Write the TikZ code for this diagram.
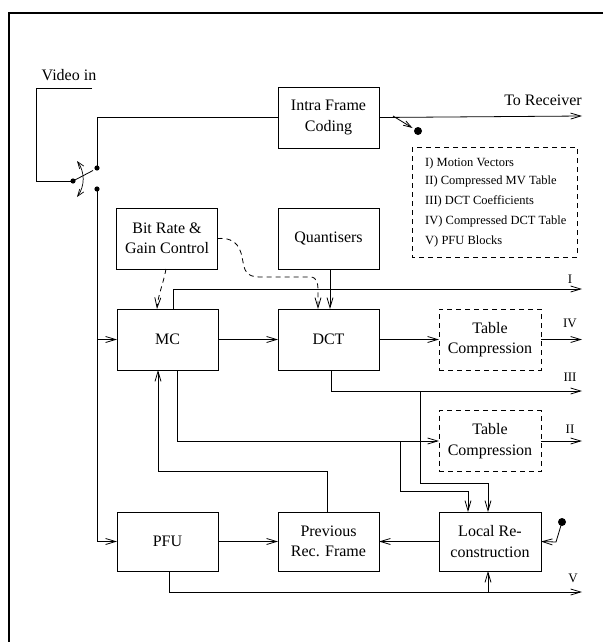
\documentclass[tikz,border=0pt]{standalone}
\usepackage{fontspec}
\setmainfont{Liberation Serif}
\usetikzlibrary{arrows.meta,calc}
\begin{document}
\begin{tikzpicture}[x=1pt,y=-1pt,
  every node/.style={font=\fontsize{16}{20.5}\selectfont},
  box/.style={draw,line width=0.8pt,inner sep=0pt,outer sep=0pt,minimum width=101pt,minimum height=61pt,align=center},
  dsh/.style={dash pattern=on 5pt off 4pt},
  dbox/.style={box,dsh},
  arr/.style={-{Straight Barb[length=10pt,width=6pt]}},
  wire/.style={line width=0.8pt},
  small/.style={font=\fontsize{13}{15}\selectfont},
  legtxt/.style={font=\fontsize{12.5}{14}\selectfont,anchor=west,inner sep=0pt}]
\useasboundingbox (0,0) rectangle (603,642);
\draw[line width=1.2pt] (603,13) -- (9,13) -- (9,642);

% boxes
\node[box] (intra) at (328.5,117.5) {Intra Frame\\Coding};
\node[box] (bitrate) at (167,238.5) {Bit Rate \&\\Gain Control};
\node[box] (quant) at (328.5,238.5) {Quantisers};
\node[box] (mc) at (167.5,339.5) {\raisebox{-5pt}{MC}};
\node[box] (dct) at (328.5,339.5) {\raisebox{-2.5pt}{DCT}};
\node[dbox,minimum width=102pt] (tc1) at (490,339.5) {Table\\Compression};
\node[dbox,minimum width=102pt] (tc2) at (490,441) {Table\\Compression};
\node[box,minimum width=102pt,minimum height=59pt] (lr) at (490,541.5) {Local Re-\\construction};
\node[box,minimum height=59pt] (prev) at (328.5,541.5) {Previous\\Rec. Frame};
\node[box,minimum height=59pt] (pfu) at (167.5,541.5) {\raisebox{-5pt}{PFU}};

% legend
\draw[wire,dsh] (412,147) rectangle (577,257);
\node[legtxt] (l1) at (425,163) {I) Motion Vectors};
\node[legtxt] (l2) at (425,181.5) {II) Compressed MV Table};
\node[legtxt] (l3) at (425,201.5) {III) DCT Coefficients};
\node[legtxt] (l4) at (425,221) {IV) Compressed DCT Table};
\node[legtxt] (l5) at (425,241.5) {V) PFU Blocks};

% switch
\node (vin) at (69,75) {Video in};
\coordinate (sw) at (73,181);
\coordinate (ct) at (97,168);
\coordinate (cb) at (97,189);
\fill (sw) circle (2.6);
\fill (ct) circle (2.6);
\fill (cb) circle (2.6);
\draw[wire] (92,88) -- (36,88) -- (36,181) -- (sw);
\draw[wire] (sw) -- (93,170.5);
\draw[line width=0.7pt,{Straight Barb[length=7pt,width=5pt]}-{Straight Barb[length=7pt,width=5pt]}] (77,161) .. controls (85,172) and (85,186) .. (77,197);

% top path
\draw[wire] (ct) |- (intra.west);
\draw[wire,arr] (intra.east) -- (582,116) coordinate (rcv);
\node[anchor=base east,inner sep=0pt] (torecv) at (582,105) {To Receiver};
\coordinate (d1) at (418,131);
\fill (d1) circle (4);
\draw[wire,-{Straight Barb[length=8pt,width=5pt]}] (393,116) -- (412.5,128);

% left feed
\draw[wire,arr] (cb) |- (pfu.west);
\draw[wire,arr] (cb |- mc.west) -- (mc.west);

% bit rate dashed
\draw[wire,dsh,arr] ([xshift=-1pt]bitrate.south) .. controls (163,285) and (158,295) .. ([xshift=-10.5pt]mc.north);
\draw[wire,dsh,arr] (bitrate.east) .. controls (238,237) and (241,250) .. (243,262) .. controls (245,275) and (250,277) .. (262,277) -- (310,277) .. controls (318,277) and (318,285) .. (318,293) -- ([xshift=-10.5pt]dct.north);

% quantisers
\draw[wire,arr] ([xshift=1.5pt]quant.south) -- ([xshift=1.5pt]dct.north);

% I
\draw[wire,arr] ([xshift=5.5pt]mc.north) |- (582,289);
\node[small] (lI) at (570,279) {I};

% MC -> DCT -> TC1 -> IV
\draw[wire,arr] (mc.east) -- (dct.west);
\draw[wire,arr] (dct.east) -- (tc1.west);
\draw[wire,arr] (tc1.east) -- (582,339.5);
\node[small] (lIV) at (570,323) {IV};

% III
\draw[wire,arr] ([xshift=2.5pt]dct.south) |- (582,391);
\node[small] (lIII) at (570,377) {III};
\draw[wire,arr] (420,391) -- (420,483) -| ([xshift=-2pt]lr.north);

% II
\draw[wire,arr] ([xshift=9.5pt]mc.south) |- (tc2.west);
\draw[wire,arr] (tc2.east) -- (582,441);
\node[small] (lII) at (570,429) {II};
\draw[wire,arr] (400,441) -- (400,491) -| ([xshift=-22pt]lr.north);

% bottom
\draw[wire,arr] (lr.west) -- (prev.east);
\draw[wire,arr] (pfu.east) -- (prev.west);
\draw[wire,arr] ([xshift=-1.5pt]prev.north) -- ++(0,-41) -| ([xshift=-9.5pt]mc.south);
\draw[wire,arr] ([xshift=1.5pt]pfu.south) |- (582,592);
\node[small] (lV) at (573,578) {V};
\draw[wire,arr] (488,592) -- ([xshift=-2pt]lr.south);
\coordinate (d2) at (562,522);
\fill (d2) circle (4);
\draw[wire,arr] (d2) -- (556,542) -- (lr.east);
\end{tikzpicture}
\end{document}
